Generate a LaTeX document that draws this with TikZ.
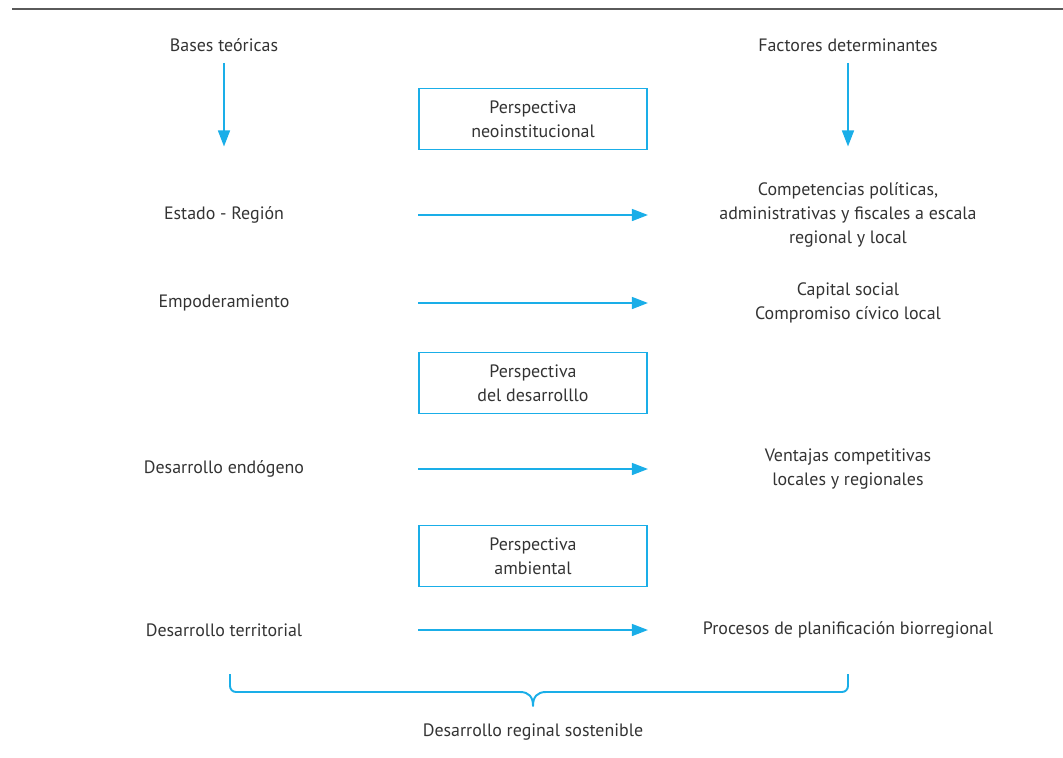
\documentclass[tikz,border=0pt]{standalone}
\usepackage{fontspec}
\setmainfont{PT Sans}
\usetikzlibrary{arrows.meta, positioning}
\definecolor{mcyan}{HTML}{1AAEE8}
\definecolor{mtext}{HTML}{333333}
\definecolor{mrule}{HTML}{5A5A5A}
\tikzstyle{term} = [text = mtext, text centered, inner sep = 0pt]
\tikzstyle{persp} = [rectangle, draw = mcyan, line width = 1.1pt, minimum width = 4.56cm, minimum height = 1.22cm, text = mtext, text centered]
\tikzstyle{link} = [mcyan, line width = 0.85pt, -{Triangle[length=3.2mm, width=2.4mm]}]
\tikzstyle{bracket} = [mcyan, line width = 1.1pt, line join = round]
\tikzstyle{rule} = [mrule, line width = 1.1pt]

\begin{document}
\begin{tikzpicture}[x=0.02cm, y=-0.02cm, align=center, font=\fontsize{10.2}{13.6}\selectfont]
\useasboundingbox (0,0) rectangle (1063,758);
\draw [rule] (12,9) -- (1063,9);
% column heads
\node (bases) [term] at (224,45) {Bases teóricas};
\node (factores) [term] at (848,45) {Factores determinantes};
% perspectives
\node (neo) [persp] at (533,119) {Perspectiva\\neoinstitucional};
\node (des) [persp] at (533,383) {Perspectiva\\del desarrolllo};
\node (amb) [persp] at (533,556) {Perspectiva\\ambiental};
% left column
\node (estado) [term] at (224,215) {Estado - Región};
\node (empod) [term] at (224,303) {Empoderamiento};
\node (endog) [term] at (224,469) {Desarrollo endógeno};
\node (territ) [term] at (224,630) {Desarrollo territorial};
% right column
\node (compet) [term] at (848,215) {Competencias políticas,\\administrativas y fiscales a escala\\regional y local};
\node (capital) [term] at (848,303) {Capital social\\Compromiso cívico local};
\node (ventajas) [term] at (848,469) {Ventajas competitivas\\locales y regionales};
\node (procesos) [term] at (848,630) {Procesos de planificación biorregional};
\node (sosten) [term] at (533,732) {Desarrollo reginal sostenible};
% arrows
\draw [link, shorten <= 2.2mm, shorten >= 0.8mm] (bases) -- (bases |- neo.south);
\draw [link, shorten <= 2.2mm, shorten >= 0.8mm] (factores) -- (factores |- neo.south);
\draw [link] (estado -| neo.west) -- (estado -| neo.east);
\draw [link] (empod -| neo.west) -- (empod -| neo.east);
\draw [link] (endog -| neo.west) -- (endog -| neo.east);
\draw [link] (territ -| neo.west) -- (territ -| neo.east);
% brace
\coordinate (braceL) at (230,674);
\coordinate (braceR) at (848,674);
\coordinate (braceTip) at (533,706);
\draw [bracket] (braceL) -- ++(0,12) arc (180:90:6) -- (520,692)
  .. controls (529,692) and (533,697) .. (braceTip)
  .. controls (533,697) and (537,692) .. (546,692)
  -- (842,692) arc (90:0:6) -- (braceR);
\end{tikzpicture}
\end{document}
